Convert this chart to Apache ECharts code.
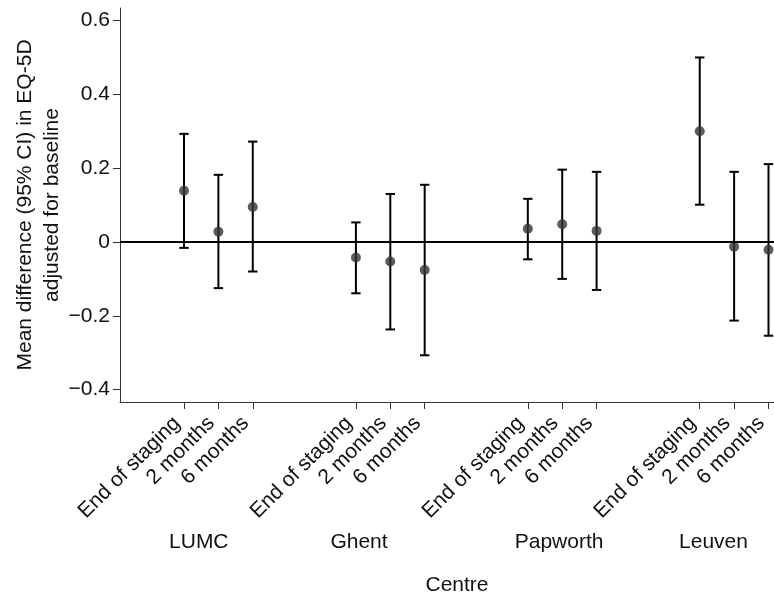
<!DOCTYPE html>
<html>
<head>
<meta charset="utf-8">
<script src="https://cdn.jsdelivr.net/npm/echarts@6/dist/echarts.min.js"></script>
<style>
html,body{margin:0;padding:0;background:#fff;}
#chart{width:774px;height:601px;}
</style>
</head>
<body>
<div id="chart"></div>
<script>
// ---- data ----
const groups = ['LUMC', 'Ghent', 'Papworth', 'Leuven'];
const timepoints = ['End of staging', '2 months', '6 months'];
const means = [0.139, 0.028, 0.095, -0.042, -0.053, -0.076, 0.036, 0.048, 0.030, 0.300, -0.013, -0.021];
const lower = [-0.016, -0.125, -0.080, -0.139, -0.237, -0.307, -0.047, -0.100, -0.130, 0.101, -0.213, -0.254];
const upper = [0.293, 0.182, 0.272, 0.053, 0.130, 0.155, 0.117, 0.196, 0.190, 0.500, 0.190, 0.211];
const yTicks = [-0.4, -0.2, 0, 0.2, 0.4, 0.6];
const yTickLabels = ['\u22120.4', '\u22120.2', '0', '0.2', '0.4', '0.6'];

// ---- layout helpers ----
const slotsPerGroup = 5;
const slots = [];
const timeOfSlot = {};
groups.forEach((g, gi) => timepoints.forEach((t, ti) => {
  const s = gi * slotsPerGroup + ti;
  slots.push(s);
  timeOfSlot[s] = t;
}));
const groupLabelOffset = [0.43, 0.09, 0.91, 0.40];
const groupLabelPos = groups.map((g, gi) => gi * slotsPerGroup + groupLabelOffset[gi]);

const pointData = slots.map((s, i) => [s, means[i]]);
const barData = slots.map((s, i) => [s, lower[i], upper[i]]);

const font = 'Liberation Sans, Arial, Helvetica, sans-serif';
const chart = echarts.init(document.getElementById('chart'));
chart.setOption({
  animation: false,
  textStyle: { fontFamily: font, color: '#111' },
  grid: { left: 120, right: 0, top: 8, bottom: 199, containLabel: false, outerBoundsMode: 'none' },
  xAxis: [{
    type: 'value', min: -1.8615, max: 17.16, position: 'bottom',
    splitLine: { show: false },
    axisLine: { show: true, onZero: false, lineStyle: { color: '#333', width: 1 } },
    axisTick: { show: true, customValues: slots, length: 7, lineStyle: { color: '#333', width: 1 } },
    axisLabel: {
      customValues: slots, rotate: 45, margin: 11, padding: [0, 10, 0, 0], fontSize: 21, color: '#111', fontFamily: font,
      formatter: v => timeOfSlot[Math.round(v)] || ''
    },
    name: 'Centre', nameLocation: 'middle', nameGap: 173, nameMoveOverlap: false,
    nameTextStyle: { fontSize: 21, color: '#111', fontFamily: font, padding: [0, 0, 0, 20] }
  }, {
    type: 'value', min: -1.8615, max: 17.16, position: 'bottom', offset: 122,
    splitLine: { show: false },
    axisLine: { show: false },
    axisTick: { show: false },
    axisLabel: {
      customValues: groupLabelPos, margin: 8, fontSize: 21, color: '#111', fontFamily: font,
      formatter: v => {
        let best = 0, bd = 1e9;
        groupLabelPos.forEach((p, i) => { const d = Math.abs(p - v); if (d < bd) { bd = d; best = i; } });
        return groups[best];
      }
    }
  }],
  yAxis: {
    type: 'value', min: -0.4336, max: 0.634,
    splitLine: { show: false },
    axisLine: { show: true, onZero: false, lineStyle: { color: '#333', width: 1 } },
    axisTick: { show: true, customValues: yTicks, length: 7, lineStyle: { color: '#333', width: 1 } },
    axisLabel: {
      customValues: yTicks, margin: 10, fontSize: 21, color: '#111', fontFamily: font,
      formatter: v => {
        let best = 0, bd = 1e9;
        yTicks.forEach((p, i) => { const d = Math.abs(p - v); if (d < bd) { bd = d; best = i; } });
        return yTickLabels[best];
      }
    },
    name: 'Mean difference (95% CI) in EQ-5D\nadjusted for baseline',
    nameLocation: 'middle', nameGap: 54, nameMoveOverlap: false,
    nameTextStyle: { fontSize: 21, lineHeight: 27, color: '#111', fontFamily: font, align: 'center' }
  },
  series: [{
    type: 'custom',
    xAxisIndex: 0,
    data: barData,
    encode: { x: 0, y: [1, 2] },
    z: 2,
    renderItem: (params, api) => {
      const x = api.value(0);
      const lo = api.coord([x, api.value(1)]);
      const hi = api.coord([x, api.value(2)]);
      const hw = 4.7;
      const st = { stroke: '#000', lineWidth: 2 };
      return {
        type: 'group',
        children: [
          { type: 'line', shape: { x1: lo[0], y1: lo[1], x2: hi[0], y2: hi[1] }, style: st },
          { type: 'line', shape: { x1: lo[0] - hw, y1: lo[1], x2: lo[0] + hw, y2: lo[1] }, style: st },
          { type: 'line', shape: { x1: hi[0] - hw, y1: hi[1], x2: hi[0] + hw, y2: hi[1] }, style: st }
        ]
      };
    }
  }, {
    type: 'scatter',
    xAxisIndex: 0,
    data: pointData,
    symbol: 'circle',
    symbolSize: 10,
    itemStyle: { color: '#333' },
    z: 3,
    markLine: {
      silent: true, symbol: 'none', animation: false,
      label: { show: false },
      lineStyle: { color: '#000', width: 2, type: 'solid' },
      data: [{ yAxis: 0 }]
    }
  }]
});
</script>
</body>
</html>
